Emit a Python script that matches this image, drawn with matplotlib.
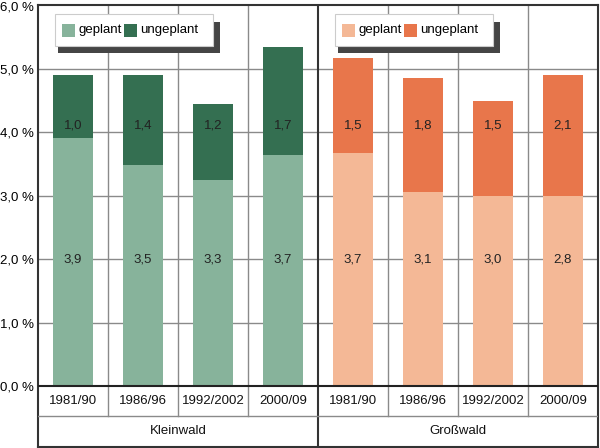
import matplotlib.pyplot as plt
from matplotlib.patches import Rectangle

plt.rcParams['font.family'] = ['Liberation Sans', 'DejaVu Sans']

perioden = ["1981/90", "1986/96", "1992/2002", "2000/09"]
gruppen = ["Kleinwald", "Großwald"]
klein_geplant = [3.91, 3.49, 3.25, 3.64]
klein_ungeplant = [1.00, 1.41, 1.20, 1.70]
gross_geplant = [3.67, 3.06, 3.00, 3.00]
gross_ungeplant = [1.50, 1.79, 1.50, 1.91]
klein_labels = [("3,9", "1,0"), ("3,5", "1,4"), ("3,3", "1,2"), ("3,7", "1,7")]
gross_labels = [("3,7", "1,5"), ("3,1", "1,8"), ("3,0", "1,5"), ("2,8", "2,1")]
yticks = [0, 1, 2, 3, 4, 5, 6]

farben = {
    "Kleinwald": ("#87b39b", "#346f51"),
    "Großwald": ("#f4b896", "#e8764b"),
}
fs = 9.5

fig = plt.figure(figsize=(6, 4.48), dpi=100)
ax = fig.add_axes([38 / 600, 1 - 447 / 448, 560 / 600, 441.5 / 448])
ax.set_xlim(0, 8)
ax.set_ylim(-0.963, 6.0)
for s in ax.spines.values():
    s.set_color("#333333")
    s.set_linewidth(1.5)
ax.set_xticks([])
ax.set_yticks(yticks)
ax.set_yticklabels([f"{v},0 %" for v in yticks], fontsize=fs)
ax.tick_params(axis="y", length=0, pad=3)

# Gitter
for v in yticks[1:-1]:
    ax.axhline(v, color="#8a8a8a", lw=1, zorder=0)
row1 = -0.474
for x in [1, 2, 3, 5, 6, 7]:
    ax.plot([x, x], [row1, 6], color="#8a8a8a", lw=1, zorder=0)
ax.plot([4, 4], [-0.963, 6], color="#333333", lw=1.5, zorder=3)
ax.axhline(0, color="#222222", lw=1.5, zorder=3)
ax.axhline(row1, color="#8a8a8a", lw=1, zorder=3)

breite = 0.57
daten = [
    (0, klein_geplant, klein_ungeplant, klein_labels, "Kleinwald"),
    (4, gross_geplant, gross_ungeplant, gross_labels, "Großwald"),
]
for off, geplant, ungeplant, labels, name in daten:
    hell, dunkel = farben[name]
    xs = [off + i + 0.5 for i in range(len(perioden))]
    ax.bar(xs, geplant, width=breite, color=hell, zorder=2)
    ax.bar(xs, ungeplant, bottom=geplant, width=breite, color=dunkel, zorder=2)
    for x, (lg, lu), p in zip(xs, labels, perioden):
        ax.text(x, 2.0, lg, ha="center", va="center", fontsize=fs, color="#222222", zorder=4)
        ax.text(x, 4.1, lu, ha="center", va="center", fontsize=fs, color="#222222", zorder=4)
        ax.text(x, row1 / 2, p, ha="center", va="center", fontsize=fs, color="#111111")
    ax.text(off + 2, (row1 - 0.963) / 2, name, ha="center", va="center", fontsize=fs, color="#111111")

    # Legende mit Schatten (Schatten als Streifen rechts und unten)
    lx, ly0, ly1 = off + 0.243, 5.355, 5.86
    box_w = 2.26
    dx, dy = 0.1, 0.1
    ax.add_patch(Rectangle((lx + box_w - 0.01, ly0 - dy), dx, ly1 - ly0 - 0.02,
                           facecolor="#454545", edgecolor="none", zorder=10))
    ax.add_patch(Rectangle((lx + 0.045, ly0 - dy), box_w + dx - 0.055, dy + 0.01,
                           facecolor="#454545", edgecolor="none", zorder=10))
    ax.add_patch(Rectangle((lx, ly0), box_w, ly1 - ly0, facecolor="white",
                           edgecolor="#cccccc", lw=0.8, zorder=11))
    sq_w, sq_h = 13 / 70, 13 / 63.3
    ym = (ly0 + ly1) / 2
    ax.add_patch(Rectangle((lx + 0.1, ym - sq_h / 2), sq_w, sq_h, facecolor=hell, zorder=12))
    ax.text(lx + 0.33, ym, "geplant", ha="left", va="center", fontsize=fs, zorder=12)
    ax.add_patch(Rectangle((lx + 0.99, ym - sq_h / 2), sq_w, sq_h, facecolor=dunkel, zorder=12))
    ax.text(lx + 1.22, ym, "ungeplant", ha="left", va="center", fontsize=fs, zorder=12)

fig.savefig("out.png", dpi=100)
